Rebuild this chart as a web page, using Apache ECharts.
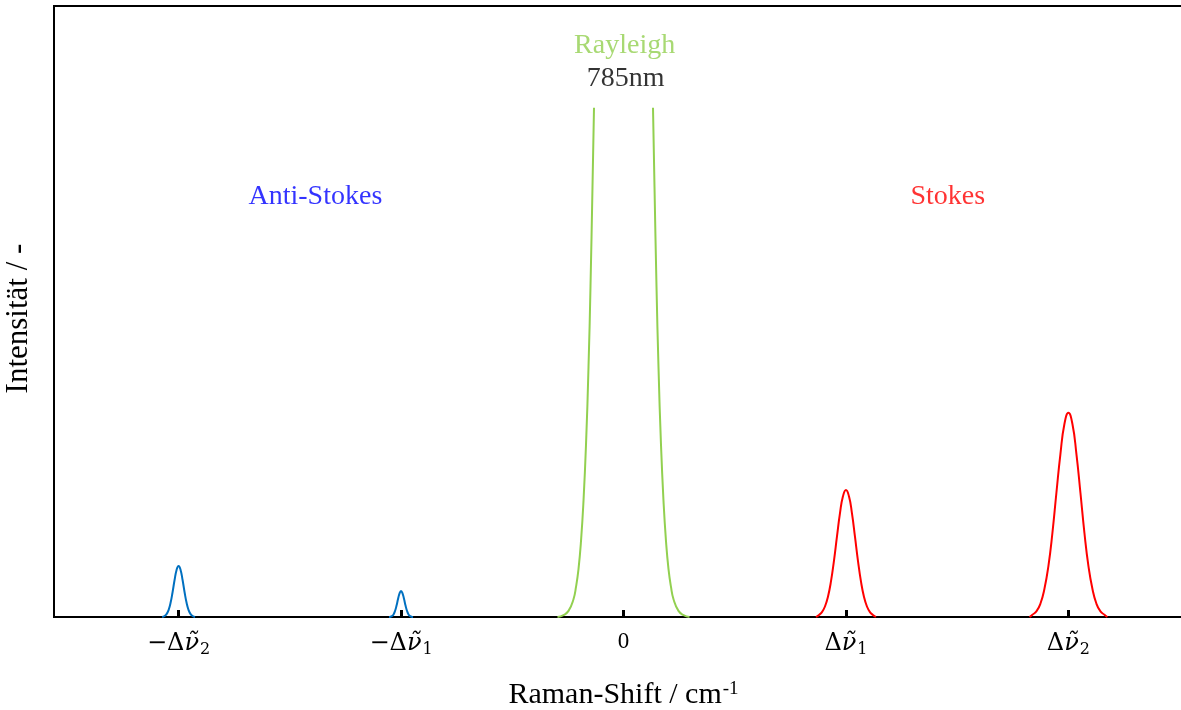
<!DOCTYPE html>
<html><head><meta charset="utf-8">
<script src="https://cdn.jsdelivr.net/npm/echarts@6/dist/echarts.min.js"></script>
<style>html,body{margin:0;padding:0;background:#fff}#c{width:1181px;height:710px}</style>
</head><body><div id="c"></div>
<script>
// ---- tick labels ----
const tickValues = [-2, -1, 0, 1, 2];
const tickLabels = ['−Δν̃_2', '−Δν̃_1', '0', 'Δν̃_1', 'Δν̃_2'];

// ---- peaks: half-profiles (offset from centre, intensity) ----
const as2Center = -2;
const as2Offsets = [0, 0.009, 0.018, 0.027, 0.036, 0.045, 0.054, 0.063, 0.074];
const as2Heights = [0.1002, 0.0925, 0.0727, 0.0487, 0.0279, 0.0136, 0.0056, 0.002, 0];

const as1Center = -1;
const as1Offsets = [0, 0.0067, 0.0135, 0.0202, 0.027, 0.0337, 0.0405, 0.0472, 0.054];
const as1Heights = [0.0511, 0.0465, 0.0353, 0.0224, 0.0118, 0.0051, 0.0019, 0.0006, 0];

const rayCenter = 0;
const rayOffsets = [0.1326, 0.1394, 0.1483, 0.1573, 0.1686, 0.1798, 0.1910, 0.2023, 0.2135, 0.2248, 0.2472, 0.2697, 0.2967];
const rayHeights = [1.0, 0.8445, 0.650, 0.491, 0.338, 0.228, 0.149, 0.094, 0.059, 0.035, 0.012, 0.0037, 0];

const st1Center = 1;
const st1Offsets = [0, 0.0135, 0.027, 0.0405, 0.054, 0.0674, 0.0809, 0.0944, 0.1079, 0.1214, 0.1349];
const st1Heights = [0.2494, 0.237, 0.2035, 0.1577, 0.1104, 0.0699, 0.0399, 0.0206, 0.0096, 0.004, 0];

const st2Center = 2;
const st2Offsets = [0, 0.018, 0.036, 0.054, 0.072, 0.090, 0.108, 0.126, 0.144, 0.162, 0.175];
const st2Heights = [0.401, 0.379, 0.320, 0.244, 0.165, 0.100, 0.055, 0.026, 0.011, 0.0045, 0];

// ---- annotations ----
const annTexts = ['Rayleigh', '785nm', 'Anti-Stokes', 'Stokes'];
const annX = [0.005, 0.01, -1.385, 1.458];
const annY = [1.122, 1.057, 0.825, 0.825];

const FONT = "'Liberation Serif', 'Times New Roman', serif";
const MATH = "'DejaVu Serif', serif";
const GREEN = '#92d050', BLUE = '#0070c0', RED = '#ff0000';
const annColors = ['#92d050', '#000000', '#0000ff', '#ff0000'];

function fullPeak(c, offs, hts) {
  const d = [];
  for (let i = offs.length - 1; i >= 1; i--) d.push([c - offs[i], hts[i]]);
  d.push([c, hts[0]]);
  for (let i = 1; i < offs.length; i++) d.push([c + offs[i], hts[i]]);
  return d;
}
function leftBranch(c, offs, hts) {
  const d = [];
  for (let i = offs.length - 1; i >= 0; i--) d.push([c - offs[i], hts[i]]);
  return d;
}
function rightBranch(c, offs, hts) {
  return offs.map((o, i) => [c + o, hts[i]]);
}

function lineSeries(data, color) {
  return {
    type: 'line', data: data, showSymbol: false, symbol: 'none',
    smooth: 0.5, clip: true, silent: true,
    lineStyle: { color: color, width: 2 }, z: 3
  };
}

const chart = echarts.init(document.getElementById('c'), null, { renderer: 'canvas' });
chart.setOption({
  animation: false,
  backgroundColor: '#ffffff',
  grid: {
    left: 54, top: 6, width: 1139, height: 611, outerBoundsMode: 'none', containLabel: false,
    show: true, borderColor: '#000', borderWidth: 2, backgroundColor: 'transparent'
  },
  xAxis: {
    type: 'value', min: -2.56, max: 2.56,
    splitLine: { show: false },
    axisLine: { show: true, onZero: false, lineStyle: { color: '#000', width: 2 } },
    axisTick: { show: true, inside: true, length: 7, customValues: tickValues, lineStyle: { color: '#000', width: 3 } },
    axisLabel: {
      show: true, customValues: tickValues, margin: 13,
      fontFamily: FONT, fontSize: 23, color: '#000',
      formatter: function (v) {
        const i = tickValues.findIndex(t => Math.abs(t - v) < 1e-9);
        if (i < 0) return '';
        const s = tickLabels[i];
        if (s.indexOf('_') < 0) return '{z|' + s + '}';
        const parts = s.split('_');
        const main = parts[0];
        const pre = main.slice(0, main.indexOf('ν'));
        return '{n|' + pre + '}{i|ν̃}{s|' + parts[1] + '}';
      },
      rich: {
        z: { fontFamily: FONT, fontSize: 23, color: '#000' },
        n: { fontFamily: MATH, fontSize: 24, color: '#000' },
        i: { fontFamily: MATH, fontSize: 24, fontStyle: 'italic', color: '#000' },
        s: { fontFamily: MATH, fontSize: 16, color: '#000', verticalAlign: 'bottom', padding: [12, 0, 0, 1] }
      }
    },
    name: 'Raman-Shift / cm{sup|-1}', nameLocation: 'middle', nameGap: 63,
    nameTextStyle: {
      fontFamily: FONT, fontSize: 30, color: '#000',
      rich: { sup: { fontFamily: FONT, fontSize: 19, color: '#000', verticalAlign: 'top', padding: [0, 0, 11, 1] } }
    }
  },
  yAxis: {
    type: 'value', min: 0, max: 1.2,
    splitLine: { show: false }, axisTick: { show: false }, axisLabel: { show: false },
    axisLine: { show: false, onZero: false },
    name: 'Intensität / -', nameLocation: 'middle', nameGap: 20,
    nameTextStyle: { fontFamily: FONT, fontSize: 31, color: '#000', padding: [0, 14, 0, 0] }
  },
  series: [
    lineSeries(fullPeak(as2Center, as2Offsets, as2Heights), BLUE),
    lineSeries(fullPeak(as1Center, as1Offsets, as1Heights), BLUE),
    lineSeries(leftBranch(rayCenter, rayOffsets, rayHeights), GREEN),
    lineSeries(rightBranch(rayCenter, rayOffsets, rayHeights), GREEN),
    lineSeries(fullPeak(st1Center, st1Offsets, st1Heights), RED),
    lineSeries(fullPeak(st2Center, st2Offsets, st2Heights), RED),
    {
      type: 'scatter', symbolSize: 0, silent: true, z: 5,
      data: annTexts.map((t, i) => ({
        value: [annX[i], annY[i]],
        label: { show: true, position: 'inside', formatter: t, color: annColors[i], fontFamily: FONT, fontSize: 28 }
      }))
    }
  ]
});
</script>
</body></html>
